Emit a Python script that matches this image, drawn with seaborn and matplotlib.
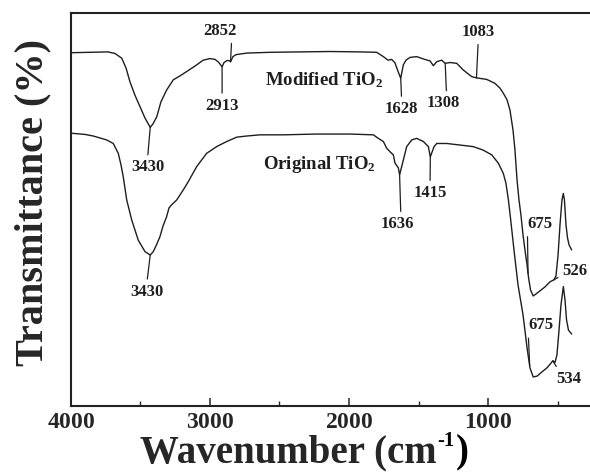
import numpy as np
import pandas as pd
import seaborn as sns
import matplotlib
matplotlib.use("Agg")
import matplotlib.pyplot as plt
from matplotlib.ticker import FixedLocator

# FTIR spectra (wavenumber in cm^-1, transmittance in arbitrary %)
modified_wn = [3995, 3863, 3734, 3683, 3635, 3604, 3576, 3540, 3504, 3468, 3430,
               3410, 3383, 3353, 3312, 3264, 3216, 3168, 3108, 3049, 3000, 2964,
               2939, 2913, 2899, 2878, 2863, 2852, 2835, 2813, 2736, 2568, 2353,
               2137, 1921, 1801, 1753, 1719, 1693, 1669, 1651, 1628, 1609, 1590,
               1561, 1513, 1465, 1417, 1393, 1369, 1333, 1308, 1273, 1225, 1178,
               1117, 1083, 1009, 950, 914, 890, 863, 842, 820, 806, 791, 777, 763,
               748, 734, 719, 708, 694, 675, 655, 626, 590, 554, 526, 511, 496,
               482, 468, 458, 450, 439, 428, 417, 398]
modified_t = [89.9, 90.0, 90.1, 89.7, 88.5, 86.0, 82.5, 79.1, 76.2, 73.3, 70.9,
              71.8, 73.6, 77.4, 80.4, 83.0, 84.0, 85.1, 86.5, 88.0, 88.4, 88.2,
              87.5, 86.3, 87.4, 87.9, 87.9, 87.6, 88.9, 89.4, 89.8, 90.0, 90.1,
              90.2, 90.1, 90.0, 88.9, 88.0, 88.2, 87.3, 85.5, 83.4, 86.8, 88.0,
              88.7, 88.9, 88.3, 87.8, 86.6, 87.6, 88.0, 87.2, 87.4, 87.2, 85.5,
              83.8, 83.5, 83.1, 82.1, 80.9, 79.6, 77.9, 75.3, 70.2, 65.1, 57.5,
              52.4, 48.6, 43.5, 39.7, 35.9, 32.6, 29.5, 28.0, 28.5, 29.3, 30.3,
              31.6, 32.1, 33.1, 38.4, 46.1, 52.4, 54.1, 52.4, 46.1, 42.8, 41.0,
              39.7]

original_wn = [3995, 3899, 3840, 3743, 3696, 3660, 3640, 3624, 3599, 3563, 3516,
               3468, 3430, 3408, 3385, 3360, 3338, 3312, 3295, 3276, 3240, 3192,
               3156, 3096, 3024, 2952, 2880, 2808, 2736, 2640, 2473, 2232, 1993,
               1825, 1789, 1753, 1729, 1705, 1681, 1669, 1645, 1636, 1609, 1585,
               1549, 1513, 1465, 1429, 1415, 1388, 1369, 1297, 1201, 1106, 1034,
               973, 926, 890, 871, 853, 835, 813, 784, 748, 719, 698, 675, 647,
               611, 576, 547, 534, 518, 504, 489, 475, 458, 446, 435, 421, 398]
original_t = [69.4, 69.1, 68.7, 67.7, 66.8, 64.3, 61.3, 58.3, 52.4, 47.3, 42.2,
              39.3, 38.4, 39.3, 41.0, 43.1, 45.8, 48.2, 50.4, 51.2, 52.4, 55.0,
              57.1, 60.9, 64.3, 66.0, 67.3, 68.4, 68.7, 69.0, 69.0, 69.2, 69.2,
              69.0, 68.1, 67.3, 65.6, 64.7, 63.9, 61.8, 60.6, 58.8, 62.6, 66.0,
              67.7, 68.1, 67.3, 66.0, 63.4, 66.0, 66.8, 66.8, 66.4, 66.0, 65.1,
              63.9, 61.8, 59.2, 56.7, 52.4, 46.8, 39.7, 30.8, 23.2, 14.8, 9.7,
              7.4, 7.6, 8.7, 9.7, 10.9, 11.5, 11.1, 13.0, 19.3, 25.7, 30.4, 27.0,
              21.9, 19.3, 18.3]

# Band labels: text, band position the leader points to, label position, leader anchor on text
modified_labels = ["3430", "2913", "2852", "1628", "1308", "1083", "675", "526"]
modified_targets = [3430, 2913, 2852, 1628, 1308, 1083, 712, 526]
modified_label_wn = [3450, 2913, 2928, 1621, 1322, 1070, 626, 374]
modified_label_t = [60.7, 76.4, 95.5, 75.6, 77.0, 95.2, 46.3, 34.4]
modified_relpos = [(0.5, 1), (0.5, 1), (0.85, 0), (0.5, 1), (0.6, 1), (0.5, 0), (0.0, 0.0), (0.0, 0.25)]

original_labels = ["3430", "1636", "1415", "675", "534"]
original_targets = [3430, 1636, 1415, 700, 534]
original_label_wn = [3455, 1651, 1417, 620, 417]
original_label_t = [29.1, 46.3, 54.2, 20.5, 6.9]
original_relpos = [(0.5, 1), (0.6, 1), (0.5, 1), (0.0, 0.0), (0.1, 1)]

major_ticks = [4000, 3000, 2000, 1000]
minor_ticks = [3500, 2500, 1500, 500]

sns.set_style("ticks")
plt.rcParams["font.family"] = ["Liberation Serif", "DejaVu Serif"]
plt.rcParams["font.weight"] = "bold"
plt.rcParams["mathtext.fontset"] = "custom"
plt.rcParams["mathtext.rm"] = "Liberation Serif:bold"
plt.rcParams["mathtext.bf"] = "Liberation Serif:bold"
plt.rcParams["mathtext.it"] = "Liberation Serif:italic"

W, H = 590, 474
fig = plt.figure(figsize=(W / 100, H / 100), dpi=100)
ax = fig.add_axes([71 / W, 68 / H, 556 / W, 393 / H])

line_color = "#1e1e1e"
spectra = pd.concat([
    pd.DataFrame({"wn": modified_wn, "t": modified_t, "sample": "Modified"}),
    pd.DataFrame({"wn": original_wn, "t": original_t, "sample": "Original"}),
])
sns.lineplot(data=spectra, x="wn", y="t", units="sample", estimator=None,
             color=line_color, linewidth=1.0, ax=ax, legend=False)


def annotate_bands(labels, targets, label_wn, label_t, relpos, wn, t):
    order = np.argsort(wn)
    wn_s = np.asarray(wn)[order]
    t_s = np.asarray(t)[order]
    for text, target, lx, ly, rp in zip(labels, targets, label_wn, label_t, relpos):
        ty = float(np.interp(target, wn_s, t_s))
        ax.annotate(text, xy=(target, ty), xytext=(lx, ly), textcoords="data",
                    ha="center", va="center", fontsize=12, fontweight="bold",
                    color=line_color,
                    arrowprops=dict(arrowstyle="-", color=line_color, lw=0.9,
                                    shrinkA=1, shrinkB=0, relpos=rp))


annotate_bands(modified_labels, modified_targets, modified_label_wn, modified_label_t,
               modified_relpos, modified_wn, modified_t)
annotate_bands(original_labels, original_targets, original_label_wn, original_label_t,
               original_relpos, original_wn, original_t)

ax.text(2604, 81.7, r"Modified TiO$_{\mathbf{2}}$", ha="left", va="baseline",
        fontsize=13.5, fontweight="bold", color=line_color)
ax.text(2619, 60.3, r"Original TiO$_{\mathbf{2}}$", ha="left", va="baseline",
        fontsize=13.5, fontweight="bold", color=line_color)

ax.set_xlim(4000, 0)
ax.set_ylim(0, 100)
ax.xaxis.set_major_locator(FixedLocator(major_ticks))
ax.xaxis.set_minor_locator(FixedLocator(minor_ticks))
ax.set_xticklabels([rf"$\mathbf{{{v}}}$" for v in major_ticks])
ax.set_yticks([])
ax.tick_params(axis="x", which="major", direction="in", length=6, width=1.1,
               labelsize=17, pad=4.5, top=False)
ax.tick_params(axis="x", which="minor", direction="in", length=3.5, width=1.0, top=False)
for side in ["left", "right", "top", "bottom"]:
    ax.spines[side].set_linewidth(1.5)
    ax.spines[side].set_color("#222222")

ax.set_ylabel("Transmittance (%)", fontsize=29, fontweight="bold")
ax.yaxis.set_label_coords(-0.036, 0.518)

# x-axis title: main text, raised "-1" and closing parenthesis set side by side
title_base = 462
xlab = ax.set_xlabel("Wavenumber (cm", fontsize=28, fontweight="bold",
                     ha="left", va="baseline")
ax.xaxis.set_label_coords((140 - 71) / 556, (406 - title_base) / 393)
fig.canvas.draw()
bb = xlab.get_window_extent()
sup = fig.text((bb.x1 + 1) / W, (H - title_base + 16) / H, "\u20101", fontsize=15,
               fontweight="bold", ha="left", va="baseline", color="black")
fig.canvas.draw()
sb = sup.get_window_extent()
fig.text((sb.x1 + 0.5) / W, (H - title_base) / H, ")", fontsize=28, fontweight="bold",
         ha="left", va="baseline", color="black")

fig.savefig("out.png", dpi=100)
